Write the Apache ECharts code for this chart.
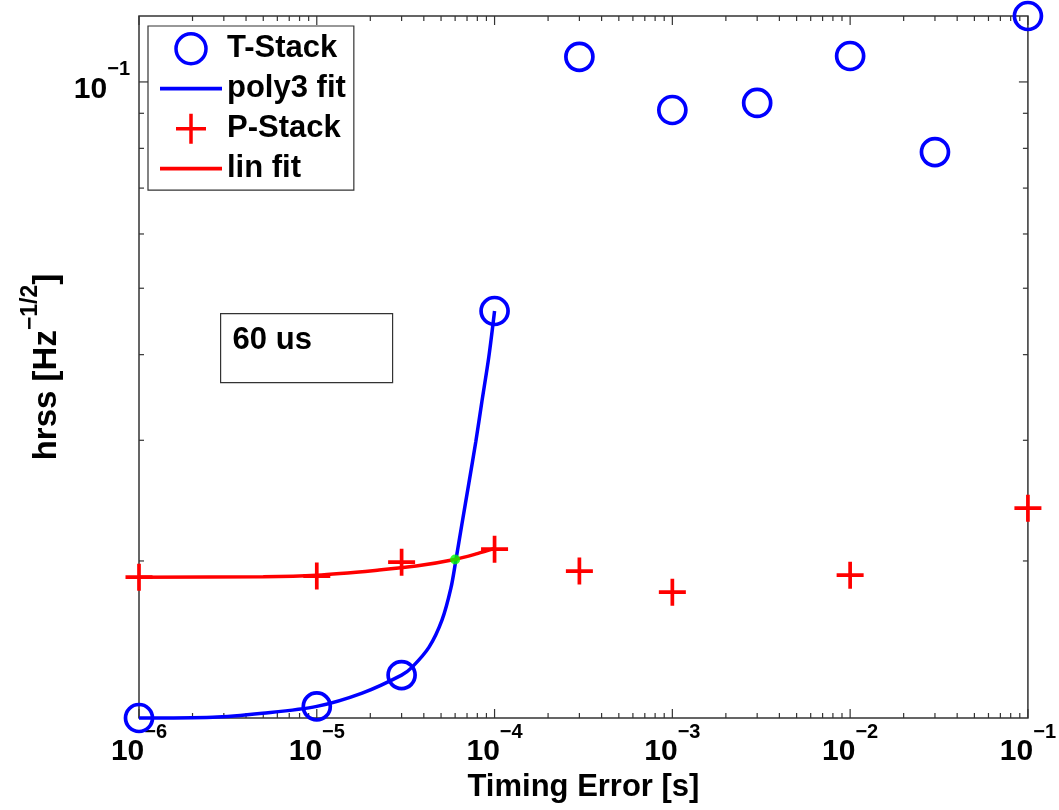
<!DOCTYPE html>
<html><head><meta charset="utf-8">
<script src="https://cdn.jsdelivr.net/npm/echarts@6/dist/echarts.min.js"></script>
<style>html,body{margin:0;padding:0;background:#fff}#c{width:1059px;height:810px}</style>
</head><body><div id="c"></div>
<script>
// ---- data ----
const tStackX = [1e-6, 1e-5, 3e-5, 1e-4, 3e-4, 1e-3, 3e-3, 1e-2, 3e-2, 1e-1];
const tStackY = [0.0118, 0.01227, 0.01363, 0.04632, 0.1088, 0.0910, 0.0932, 0.1091, 0.0790, 0.1248];
const pStackX = [1e-6, 1e-5, 3e-5, 1e-4, 3e-4, 1e-3, 1e-2, 1e-1];
const pStackY = [0.01894, 0.01901, 0.01992, 0.02081, 0.01933, 0.01801, 0.01907, 0.02388];
const polyFitX = [1.0e-6, 2.6e-6, 4.95e-6, 1e-5, 1.8e-5, 3e-5, 3.44e-5, 4.28e-5, 5.06e-5, 5.68e-5, 6.06e-5, 6.55e-5, 7.17e-5, 7.85e-5, 8.48e-5, 9.28e-5, 1e-4];
const polyFitY = [0.0118, 0.01183, 0.01199, 0.01227, 0.01283, 0.01363, 0.01400, 0.01497, 0.01639, 0.01825, 0.02006, 0.02263, 0.02598, 0.02991, 0.03411, 0.03968, 0.04632];
const linFitX = [1e-6, 5e-6, 1e-5, 2.24e-5, 3.62e-5, 6.06e-5, 8e-5, 1e-4];
const linFitY = [0.01894, 0.01897, 0.01907, 0.01940, 0.01966, 0.02012, 0.02050, 0.02086];
const crossX = [6.0e-5];
const crossY = [0.0201];
const boxText = '60 us';
const xAxisTitle = 'Timing Error [s]';
const yAxisTitle = ['hrss [Hz', '−1/2', ']'];
const yTickValues = [0.02, 0.03, 0.04, 0.05, 0.06, 0.07, 0.08, 0.09, 0.1];
const xDecades = [-6, -5, -4, -3, -2, -1];
const X_MIN = 1e-6, X_MAX = 1e-1, Y_MIN = 0.0118, Y_MAX = 0.1248;

const xTickValues = [];
xDecades.forEach(e => { for (let m = 1; m <= 9; m++) { const v = m * Math.pow(10, e); if (v <= X_MAX * 1.0001) xTickValues.push(v); } });

const FONT = '"Liberation Sans", Arial, Helvetica, sans-serif';
const AX = '#333333';
const isDecade = v => Math.abs(Math.log10(v) - Math.round(Math.log10(v))) < 1e-6;
const pow10Label = v => {
  if (!isDecade(v)) return '';
  const e = Math.round(Math.log10(v));
  return '{b|10}{s|' + (e < 0 ? '−' : '') + Math.abs(e) + '}';
};
const tickRich = {
  b: { fontFamily: FONT, fontWeight: 'bold', fontSize: 30, color: '#000', lineHeight: 45, verticalAlign: 'bottom' },
  s: { fontFamily: FONT, fontWeight: 'bold', fontSize: 20, color: '#000', lineHeight: 20, verticalAlign: 'top' }
};
const PLUS = 'path://M0,50 L100,50 M50,0 L50,100';
const BAR = 'path://M0,0 L100,0 L100,6 L0,6 Z';

const chart = echarts.init(document.getElementById('c'), null, { renderer: 'canvas' });
chart.setOption({
  animation: false,
  backgroundColor: '#fff',
  grid: { left: 139, right: 28, top: 16, bottom: 92, show: true, borderColor: AX, borderWidth: 1.5, backgroundColor: 'transparent' },
  xAxis: {
    type: 'log', logBase: 10, min: X_MIN, max: X_MAX,
    axisLine: { show: false }, axisTick: { show: false }, splitLine: { show: false }, minorTick: { show: false },
    axisLabel: { formatter: pow10Label, rich: tickRich, margin: 4, showMinLabel: true, showMaxLabel: true },
    name: xAxisTitle, nameLocation: 'middle', nameGap: 52,
    nameTextStyle: { fontFamily: FONT, fontWeight: 'bold', fontSize: 31, color: '#000' }
  },
  yAxis: {
    type: 'log', logBase: 10, min: Y_MIN, max: Y_MAX,
    axisLine: { show: false }, axisTick: { show: false }, splitLine: { show: false }, minorTick: { show: false },
    axisLabel: { formatter: pow10Label, rich: tickRich, margin: 9 },
    name: '{b|' + yAxisTitle[0] + '}{s|' + yAxisTitle[1] + '}{b|' + yAxisTitle[2] + '}',
    nameLocation: 'middle', nameRotate: 90, nameGap: 73,
    nameTextStyle: {
      rich: {
        b: { fontFamily: FONT, fontWeight: 'bold', fontSize: 33, color: '#000', lineHeight: 44, verticalAlign: 'bottom' },
        s: { fontFamily: FONT, fontWeight: 'bold', fontSize: 23, color: '#000', lineHeight: 23, verticalAlign: 'top' }
      }
    }
  },
  legend: {
    orient: 'vertical', left: 148, top: 26, padding: [6, 8, 6, 12], itemGap: 7.7,
    itemWidth: 62, itemHeight: 30, backgroundColor: '#fff', borderColor: AX, borderWidth: 1.2,
    selectedMode: false, symbolKeepAspect: true,
    textStyle: { fontFamily: FONT, fontWeight: 'bold', fontSize: 31, color: '#000', lineHeight: 30 },
    data: [
      { name: 'T-Stack', icon: 'circle', itemStyle: { color: 'transparent', borderColor: '#0000ff', borderWidth: 3.5 } },
      { name: 'poly3 fit', icon: BAR, itemStyle: { color: '#0000ff', borderWidth: 0 } },
      { name: 'P-Stack', icon: PLUS, itemStyle: { color: 'transparent', borderColor: '#ff0000', borderWidth: 3.5 } },
      { name: 'lin fit', icon: BAR, itemStyle: { color: '#ff0000', borderWidth: 0 } }
    ]
  },
  graphic: [{
    type: 'group', left: 220, top: 313, z: 10,
    children: [
      { type: 'rect', shape: { x: 0, y: 0, width: 172, height: 69 }, style: { fill: '#fff', stroke: AX, lineWidth: 1.2 } },
      { type: 'text', x: 12, y: 27, style: { text: boxText, fontFamily: FONT, fontWeight: 'bold', fontSize: 31, fill: '#000', verticalAlign: 'middle' } }
    ]
  }],
  series: [
    {
      name: 'T-Stack', type: 'scatter', clip: false, z: 3, silent: true,
      data: tStackX.map((x, i) => [x, tStackY[i]]),
      symbol: 'circle', symbolSize: 27,
      itemStyle: { color: 'transparent', borderColor: '#0000ff', borderWidth: 3.7, opacity: 1 }
    },
    {
      name: 'poly3 fit', type: 'line', clip: false, z: 4, silent: true, symbol: 'none', showSymbol: false, smooth: 0.3,
      data: polyFitX.map((x, i) => [x, polyFitY[i]]),
      lineStyle: { color: '#0000ff', width: 3.5 }, itemStyle: { color: '#0000ff' }
    },
    {
      name: 'P-Stack', type: 'scatter', clip: false, z: 3, silent: true,
      data: pStackX.map((x, i) => [x, pStackY[i]]),
      symbol: PLUS, symbolSize: 27,
      itemStyle: { color: 'transparent', borderColor: '#ff0000', borderWidth: 3.7, opacity: 1 }
    },
    {
      name: 'lin fit', type: 'line', clip: false, z: 4, silent: true, symbol: 'none', showSymbol: false, smooth: 0.3,
      data: linFitX.map((x, i) => [x, linFitY[i]]),
      lineStyle: { color: '#ff0000', width: 3.5 }, itemStyle: { color: '#ff0000' }
    },
    {
      name: 'crossing', type: 'scatter', clip: false, z: 6, silent: true,
      data: crossX.map((x, i) => [x, crossY[i]]),
      symbol: 'circle', symbolSize: 10, itemStyle: { color: '#00ff00' }
    },
    {
      name: 'xticks', type: 'custom', silent: true, clip: false, z: 2,
      data: xTickValues.map(v => [v, Y_MIN]), encode: { x: 0, y: 1 },
      renderItem: (params, api) => {
        const v = api.value(0);
        const b = api.coord([v, Y_MIN]), t = api.coord([v, Y_MAX]);
        const L = isDecade(v) ? 9 : 5;
        return { type: 'group', children: [
          { type: 'line', shape: { x1: b[0], y1: b[1], x2: b[0], y2: b[1] - L }, style: { stroke: AX, lineWidth: 1.2 } },
          { type: 'line', shape: { x1: t[0], y1: t[1], x2: t[0], y2: t[1] + L }, style: { stroke: AX, lineWidth: 1.2 } }
        ] };
      }
    },
    {
      name: 'yticks', type: 'custom', silent: true, clip: false, z: 2,
      data: yTickValues.map(v => [X_MIN, v]), encode: { x: 0, y: 1 },
      renderItem: (params, api) => {
        const v = api.value(1);
        const l = api.coord([X_MIN, v]), r = api.coord([X_MAX, v]);
        const L = isDecade(v) ? 9 : 5;
        return { type: 'group', children: [
          { type: 'line', shape: { x1: l[0], y1: l[1], x2: l[0] + L, y2: l[1] }, style: { stroke: AX, lineWidth: 1.2 } },
          { type: 'line', shape: { x1: r[0], y1: r[1], x2: r[0] - L, y2: r[1] }, style: { stroke: AX, lineWidth: 1.2 } }
        ] };
      }
    }
  ]
});
</script>
</body></html>
